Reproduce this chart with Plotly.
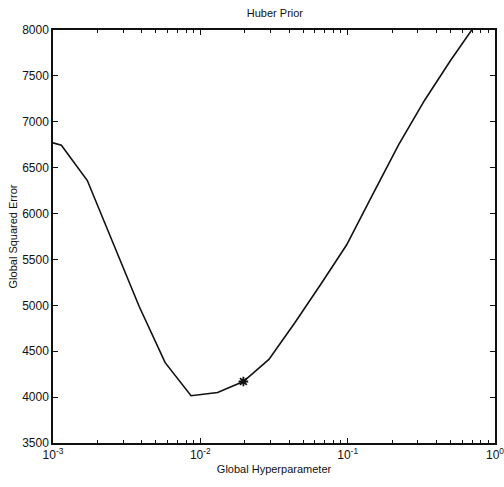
import plotly.graph_objects as go

# Data
hyper = [0.001, 0.00114, 0.00171, 0.00256, 0.00384, 0.00577, 0.00865, 0.0131,
         0.0196, 0.0292, 0.0438, 0.0657, 0.0985, 0.148, 0.222, 0.333, 0.499, 0.749]
sq_err = [6770, 6745, 6360, 5670, 4990, 4375, 4015, 4050,
          4170, 4410, 4810, 5230, 5660, 6210, 6750, 7235, 7668, 8075]
best_x = [0.0196]
best_y = [4170]

x_tickvals = [0.001, 0.01, 0.1, 1]
x_ticktext = ["10<sup>-3</sup>", "10<sup>-2</sup>", "10<sup>-1</sup>", "10<sup>0</sup>"]
minor_vals = [k * 10 ** e for e in (-3, -2, -1) for k in range(2, 10)]
y_tickvals = [3500, 4000, 4500, 5000, 5500, 6000, 6500, 7000, 7500, 8000]

font = "Liberation Sans, Arial, sans-serif"

fig = go.Figure()
fig.add_trace(go.Scatter(x=hyper, y=sq_err, mode="lines",
                         line=dict(color="#111", width=1.6), showlegend=False))
fig.add_trace(go.Scatter(x=best_x, y=best_y, mode="markers",
                         marker=dict(symbol="asterisk-open", size=8, color="#111",
                                     line=dict(color="#111", width=1.8)),
                         showlegend=False))
# invisible trace to host the minor-tick axis
fig.add_trace(go.Scatter(x=best_x, y=best_y, xaxis="x2", mode="markers",
                         marker=dict(opacity=0), hoverinfo="skip", showlegend=False))

fig.update_layout(
    width=504, height=487,
    margin=dict(l=53, r=9, t=30, b=44),
    paper_bgcolor="white", plot_bgcolor="white",
    font=dict(family=font, size=11, color="#111"),
    title=dict(text="Huber Prior", x=0.5455, xanchor="center", y=0.972, yanchor="middle",
               font=dict(size=11, color="#111")),
    xaxis=dict(type="log", range=[-3, 0], tickvals=x_tickvals, ticktext=x_ticktext,
               ticks="inside", ticklen=5, tickcolor="#111", tickwidth=1.2,
               showline=True, linecolor="#111", linewidth=1.5, mirror="ticks",
               showgrid=False, zeroline=False, automargin=False,
               ticklabeloverflow="allow",
               tickfont=dict(size=12),
               title=dict(text="Global Hyperparameter", font=dict(size=11), standoff=4)),
    xaxis2=dict(type="log", range=[-3, 0], overlaying="x", side="bottom",
                tickvals=minor_vals, showticklabels=False,
                ticks="inside", ticklen=3, tickcolor="#111", tickwidth=1,
                showline=True, linecolor="#111", linewidth=1.5, mirror="ticks",
                showgrid=False, zeroline=False, automargin=False),
    yaxis=dict(range=[3500, 8000], tickvals=y_tickvals,
               ticks="inside", ticklen=5, tickcolor="#111", tickwidth=1.2,
               showline=True, linecolor="#111", linewidth=1.5, mirror="ticks",
               showgrid=False, zeroline=False, tickfont=dict(size=12), automargin=False,
               title=dict(text="Global Squared Error", font=dict(size=11), standoff=2)),
)

fig.write_html("out.html")
